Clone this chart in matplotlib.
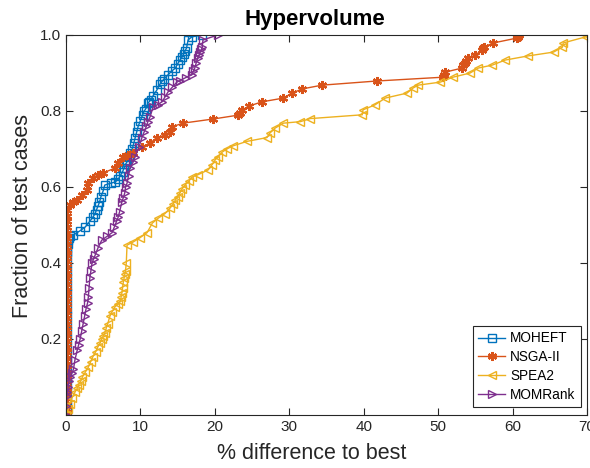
import matplotlib
matplotlib.use("Agg")
import matplotlib.pyplot as plt

plt.rcParams['font.family'] = ['Liberation Sans', 'DejaVu Sans']

title = "Hypervolume"
xlabel = "% difference to best"
ylabel = "Fraction of test cases"
series_names = ["MOHEFT", "NSGA-II", "SPEA2", "MOMRank"]
colors = ["#0072BD", "#D95319", "#EDB120", "#7E2F8E"]
markers = ["s", "*", "<", ">"]
xticks = [0, 10, 20, 30, 40, 50, 60, 70]
yticks = [0.2, 0.4, 0.6, 0.8, 1.0]
ytick_labels = ["0.2", "0.4", "0.6", "0.8", "1.0"]

moheft_x = [0.1, 0.1, 0.1, 0.1, 0.1, 0.1, 0.1, 0.1, 0.1, 0.1, 0.1, 0.1, 0.1, 0.1,
            0.1, 0.1, 0.1, 0.1, 0.1, 0.1, 0.1, 0.1, 0.2, 0.2, 0.3, 0.3, 0.4,
            0.5, 1.0, 1.9, 2.6, 3.2, 3.6, 3.9, 4.1, 4.3, 4.5, 4.7, 5.0, 5.2, 6.0,
            6.6, 7.0, 7.3, 7.6, 7.8, 8.0, 8.2, 8.4, 8.6, 8.9, 9.1, 9.3, 9.5, 9.7,
            10.0, 10.3, 10.5, 10.7, 11.0, 11.2, 11.4, 11.7, 12.2, 12.6, 12.9, 13.2,
            13.7, 14.2, 14.7, 15.0, 15.3, 15.6, 15.8, 16.0, 16.2, 16.4, 16.9, 18.3]
moheft_y = [0.0, 0.02, 0.04, 0.06, 0.08, 0.10, 0.12, 0.14, 0.16, 0.18, 0.20, 0.22,
            0.24, 0.26, 0.28, 0.30, 0.32, 0.34, 0.36, 0.38, 0.40, 0.42, 0.43,
            0.44, 0.45, 0.46, 0.465, 0.47, 0.474, 0.485, 0.495, 0.51, 0.52, 0.53,
            0.54, 0.55, 0.56, 0.575, 0.59, 0.605, 0.61, 0.613, 0.62, 0.63, 0.64,
            0.65, 0.66, 0.666, 0.68, 0.69, 0.70, 0.715, 0.73, 0.745, 0.76, 0.775,
            0.79, 0.80, 0.805, 0.82, 0.825, 0.83, 0.84, 0.855, 0.87, 0.878, 0.885,
            0.895, 0.905, 0.913, 0.924, 0.934, 0.942, 0.95, 0.958, 0.966, 0.987,
            0.995, 1.0]

nsga_x = [0.1, 0.1, 0.1, 0.1, 0.1, 0.1, 0.1, 0.1, 0.1, 0.1, 0.1, 0.1, 0.1, 0.1,
          0.1, 0.1, 0.1, 0.1, 0.1, 0.1, 0.1, 0.1, 0.1, 0.1, 0.1, 0.1, 0.1, 0.1,
          0.1, 0.1, 0.1, 0.1, 0.1, 0.1, 0.1, 0.1, 0.2, 0.5, 1.0, 1.5, 2.2, 2.8,
          3.0, 3.6, 4.3, 5.0, 6.6, 7.0, 7.7, 8.3, 9.0, 10.2, 11.3, 12.2, 13.3,
          14.0, 14.2, 15.7, 19.8, 23.1, 23.4, 23.7, 24.6, 26.3, 29.2, 30.4, 31.7,
          34.4, 41.8, 50.7, 50.8, 50.9, 53.2, 53.4, 53.6, 53.8, 54.0, 55.0, 55.9,
          56.0, 56.1, 57.4, 60.6, 60.7, 60.8]
nsga_y = [0.0, 0.015, 0.03, 0.045, 0.06, 0.075, 0.09, 0.105, 0.12, 0.135, 0.15,
          0.165, 0.18, 0.195, 0.21, 0.225, 0.24, 0.255, 0.27, 0.285, 0.30, 0.315,
          0.33, 0.345, 0.36, 0.375, 0.39, 0.405, 0.42, 0.435, 0.45, 0.465, 0.48,
          0.495, 0.51, 0.525, 0.54, 0.553, 0.56, 0.566, 0.58, 0.592, 0.61, 0.624,
          0.632, 0.637, 0.65, 0.663, 0.68, 0.685, 0.69, 0.705, 0.716, 0.729,
          0.737, 0.745, 0.758, 0.768, 0.779, 0.789, 0.796, 0.803, 0.813, 0.824,
          0.834, 0.847, 0.858, 0.868, 0.879, 0.889, 0.896, 0.902, 0.913, 0.92,
          0.926, 0.932, 0.939, 0.947, 0.961, 0.965, 0.968, 0.979, 0.992, 0.996,
          1.0]

spea_x = [0.0, 0.3, 0.5, 0.8, 1.2, 1.5, 1.7, 2.0, 2.2, 2.6, 3.0, 3.3, 3.6, 4.0,
          4.3, 4.6, 4.8, 5.0, 5.2, 5.4, 5.6, 5.9, 6.2, 6.6, 7.0, 7.3, 7.4, 7.5,
          7.6, 7.7, 7.8, 7.9, 8.0, 8.1, 8.2, 9.0, 9.9, 10.9, 11.6, 12.4, 13.3,
          14.0, 14.4, 14.7, 15.0, 15.3, 15.6, 16.0, 16.5, 16.9, 17.7, 19.1, 19.6,
          20.0, 20.4, 21.0, 21.6, 22.4, 24.3, 27.0, 27.4, 28.1, 29.2, 31.5, 32.8,
          39.8, 39.9, 41.5, 42.9, 45.8, 46.6, 47.3, 50.3, 52.0, 54.3, 55.4, 57.3,
          59.0, 62.1, 65.5, 66.7, 66.8, 69.8, 70.0]
spea_y = [0.0, 0.015, 0.03, 0.045, 0.06, 0.07, 0.08, 0.09, 0.10, 0.113, 0.126,
          0.14, 0.153, 0.167, 0.18, 0.19, 0.20, 0.208, 0.215, 0.228, 0.24, 0.26,
          0.272, 0.285, 0.293, 0.30, 0.31, 0.32, 0.335, 0.35, 0.36, 0.37, 0.38,
          0.40, 0.447, 0.455, 0.466, 0.48, 0.505, 0.518, 0.53, 0.545, 0.555,
          0.566, 0.575, 0.584, 0.595, 0.605, 0.615, 0.626, 0.632, 0.645, 0.658,
          0.67, 0.68, 0.692, 0.70, 0.708, 0.72, 0.73, 0.742, 0.755, 0.768, 0.772,
          0.78, 0.79, 0.803, 0.816, 0.834, 0.847, 0.86, 0.868, 0.876, 0.889,
          0.90, 0.913, 0.921, 0.934, 0.945, 0.955, 0.968, 0.979, 0.995, 1.0]

momr_x = [0.0, 0.05, 0.1, 0.2, 0.3, 0.4, 0.5, 0.8, 1.0, 1.2, 1.5, 1.7, 1.9, 2.1,
          2.3, 2.5, 2.7, 2.9, 3.0, 3.1, 3.2, 3.35, 3.5, 3.7, 3.9, 4.3, 4.8, 5.5,
          6.2, 6.5, 6.8, 7.0, 7.2, 7.5, 7.7, 7.9, 8.0, 8.2, 8.4, 8.6, 9.0, 9.3,
          9.8, 10.2, 10.5, 10.8, 11.0, 11.3, 11.7, 12.3, 12.9, 13.3, 13.7, 14.3,
          14.9, 15.3, 16.1, 16.9, 17.1, 17.3, 17.5, 17.7, 17.9, 18.0, 18.2, 18.3,
          18.4, 20.4]
momr_y = [0.0, 0.025, 0.05, 0.06, 0.075, 0.09, 0.10, 0.11, 0.12, 0.145, 0.17,
          0.185, 0.20, 0.22, 0.24, 0.26, 0.28, 0.295, 0.31, 0.335, 0.36, 0.38,
          0.40, 0.41, 0.42, 0.44, 0.46, 0.47, 0.48, 0.495, 0.51, 0.52, 0.535,
          0.56, 0.572, 0.585, 0.60, 0.61, 0.63, 0.65, 0.665, 0.68, 0.705, 0.73,
          0.745, 0.76, 0.772, 0.785, 0.81, 0.817, 0.824, 0.837, 0.85, 0.863,
          0.876, 0.88, 0.888, 0.895, 0.904, 0.913, 0.927, 0.94, 0.948, 0.955,
          0.962, 0.968, 0.987, 1.0]

data = [(moheft_x, moheft_y), (nsga_x, nsga_y), (spea_x, spea_y), (momr_x, momr_y)]

fig = plt.figure(figsize=(5.9, 4.68), dpi=100)
ax = fig.add_axes([66/590, 53/468, (587-66)/590, (415-35)/468])

handles = []
for (xs, ys), name, c, m in zip(data, series_names, colors, markers):
    if m == "*":
        h, = ax.plot(xs, ys, color=c, marker=(6, 2, 0), markersize=6.5,
                     linewidth=1.0, markeredgewidth=1.6, label=name)
    else:
        h, = ax.plot(xs, ys, color=c, marker=m, markersize=5.5, linewidth=1.0,
                     markerfacecolor='none', markeredgewidth=1.0, label=name)
    handles.append(h)

ax.set_xlim(0, 70)
ax.set_ylim(0, 1.0)
ax.set_xticks(xticks)
ax.set_yticks(yticks)
ax.set_yticklabels(ytick_labels)
axcol = "#262626"
for s in ax.spines.values():
    s.set_color(axcol)
    s.set_linewidth(0.8)
ax.tick_params(direction='in', top=True, right=True, length=5, width=0.8,
               colors=axcol, labelsize=11, labelcolor=axcol)

fig.text(315/590, 1 - 25/468, title, ha='center', va='baseline',
         fontsize=16, fontweight='bold', color='black')
ax.set_xlabel(xlabel, fontsize=15.5, color=axcol)
ax.xaxis.set_label_coords((312-66)/521, (415-443)/380)
ax.set_ylabel(ylabel, fontsize=15.5, color=axcol)
ax.yaxis.set_label_coords((33-66)/521, (415-216)/380)

leg = ax.legend(handles=handles, loc='lower right', fontsize=9.8, frameon=True,
                fancybox=False, edgecolor=axcol, framealpha=1,
                borderpad=0.4, labelspacing=0.35, handlelength=2.0,
                handletextpad=0.35, borderaxespad=0,
                bbox_to_anchor=((581-66)/521, (415-407)/380))
leg.get_frame().set_linewidth(0.8)

fig.savefig("out.png", dpi=100)
